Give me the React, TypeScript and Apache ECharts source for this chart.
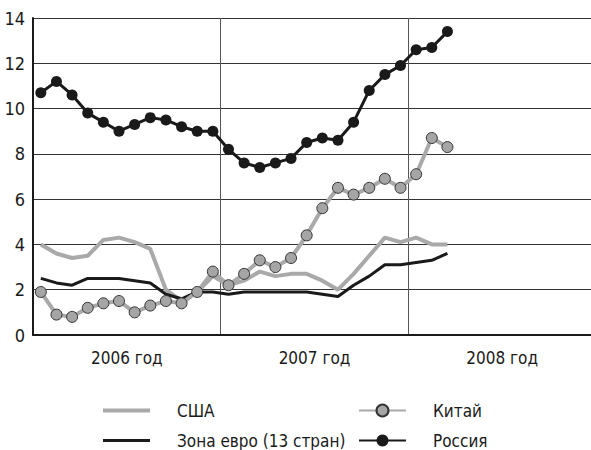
import React, { useEffect, useRef } from "react";
import * as echarts from "echarts";

const years = ["2006 год", "2007 год", "2008 год"];
const months: string[] = [];
for (const y of [2006, 2007, 2008]) {
  for (let m = 1; m <= 12; m++) months.push(`${y}-${m < 10 ? "0" + m : m}`);
}
const yTicks = { min: 0, max: 14, interval: 2 };

const usa = [4.0, 3.6, 3.4, 3.5, 4.2, 4.3, 4.1, 3.8, 2.0, 1.5, 1.9, 2.6, 2.2, 2.4, 2.8, 2.6, 2.7, 2.7, 2.4, 2.0, 2.7, 3.5, 4.3, 4.1, 4.3, 4.0, 4.0];
const euro = [2.5, 2.3, 2.2, 2.5, 2.5, 2.5, 2.4, 2.3, 1.8, 1.6, 1.9, 1.9, 1.8, 1.9, 1.9, 1.9, 1.9, 1.9, 1.8, 1.7, 2.2, 2.6, 3.1, 3.1, 3.2, 3.3, 3.6];
const china = [1.9, 0.9, 0.8, 1.2, 1.4, 1.5, 1.0, 1.3, 1.5, 1.4, 1.9, 2.8, 2.2, 2.7, 3.3, 3.0, 3.4, 4.4, 5.6, 6.5, 6.2, 6.5, 6.9, 6.5, 7.1, 8.7, 8.3];
const russia = [10.7, 11.2, 10.6, 9.8, 9.4, 9.0, 9.3, 9.6, 9.5, 9.2, 9.0, 9.0, 8.2, 7.6, 7.4, 7.6, 7.8, 8.5, 8.7, 8.6, 9.4, 10.8, 11.5, 11.9, 12.6, 12.7, 13.4];

const FONT = "'Liberation Sans Narrow', 'DejaVu Sans Condensed', 'DejaVu Sans', sans-serif";
const GRAY = "#a9a9a9";
const BLACK = "#1a1a1a";
const FS = 17;

export default function App() {
  const ref = useRef<HTMLDivElement>(null);
  useEffect(() => {
    if (!ref.current) return;
    const chart = echarts.init(ref.current, undefined, { renderer: "svg" });
    const legendBase = {
      padding: 0,
      itemWidth: 47,
      itemHeight: 15,
      textStyle: { fontFamily: FONT, fontSize: FS, color: BLACK, padding: [0, 0, 0, 22] },
      selectedMode: false,
    };
    chart.setOption({
      animation: false,
      textStyle: { fontFamily: FONT },
      grid: { left: 33, right: -5, top: 18, bottom: 115, outerBoundsMode: "none", containLabel: false },
      legend: [
        { ...legendBase, data: ["США"], left: 103, top: 402, icon: "rect", itemHeight: 4 },
        { ...legendBase, data: ["Зона евро (13 стран)"], left: 103, top: 432, icon: "rect", itemHeight: 3 },
        { ...legendBase, data: ["Китай"], left: 358, top: 402 },
        { ...legendBase, data: ["Россия"], left: 358, top: 432 },
      ],
      xAxis: [
        {
          type: "category",
          data: months,
          boundaryGap: true,
          axisLine: { show: true, lineStyle: { color: BLACK, width: 2 } },
          axisTick: { show: false },
          axisLabel: { show: false },
          splitLine: { show: false },
        },
        {
          type: "category",
          data: years,
          position: "bottom",
          boundaryGap: true,
          axisLine: { show: false },
          axisTick: { show: false },
          axisLabel: { fontFamily: FONT, fontSize: FS, color: BLACK, margin: 14 },
          splitLine: { show: true, lineStyle: { color: "#555", width: 1 } },
        },
      ],
      yAxis: {
        type: "value",
        ...yTicks,
        axisLine: { show: true, lineStyle: { color: BLACK, width: 2 } },
        axisTick: { show: false },
        axisLabel: { fontFamily: FONT, fontSize: 18, color: BLACK, margin: 8 },
        splitLine: { show: true, lineStyle: { color: "#333", width: 1 } },
      },
      series: [
        {
          name: "США",
          type: "line",
          data: usa,
          symbol: "none",
          lineStyle: { color: GRAY, width: 4 },
          itemStyle: { color: GRAY },
          z: 2,
        },
        {
          name: "Зона евро (13 стран)",
          type: "line",
          data: euro,
          symbol: "none",
          lineStyle: { color: BLACK, width: 3 },
          itemStyle: { color: BLACK },
          z: 3,
        },
        {
          name: "Китай",
          type: "line",
          data: china,
          symbol: "circle",
          symbolSize: 11,
          showSymbol: true,
          showAllSymbol: true,
          lineStyle: { color: GRAY, width: 4 },
          itemStyle: { color: "#a5a5a5", borderColor: "#333", borderWidth: 1 },
          z: 4,
        },
        {
          name: "Россия",
          type: "line",
          data: russia,
          symbol: "circle",
          symbolSize: 11,
          showSymbol: true,
          showAllSymbol: true,
          lineStyle: { color: BLACK, width: 3 },
          itemStyle: { color: BLACK },
          z: 5,
        },
      ],
    });
    return () => chart.dispose();
  }, []);
  return (
    <>
      <style>{"#root svg text { font-stretch: condensed !important; }"}</style>
      <div ref={ref} style={{ position: "absolute", left: 0, top: 0, width: 591, height: 450 }} />
    </>
  );
}
